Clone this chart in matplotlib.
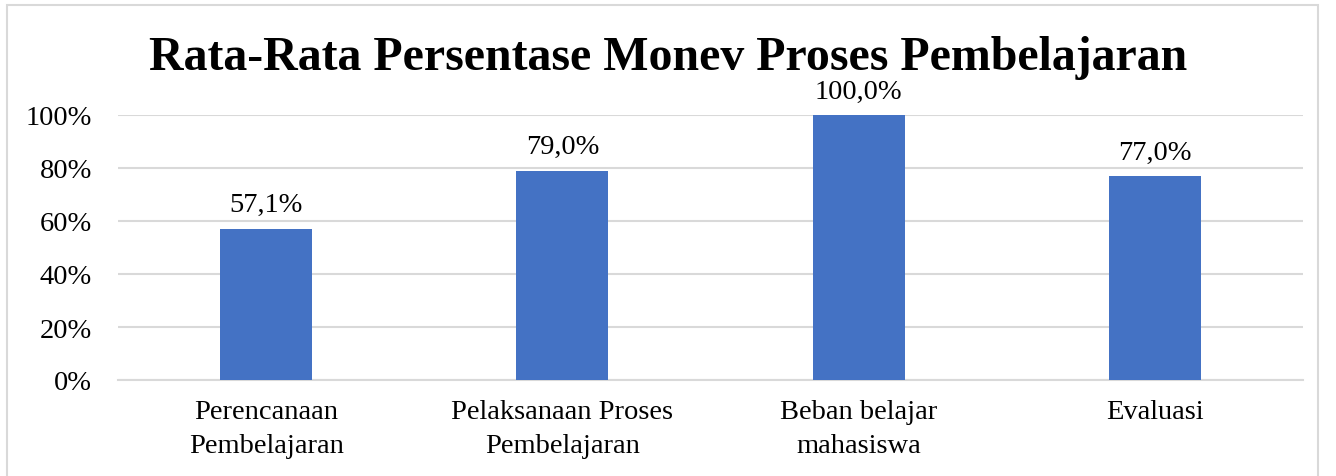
import matplotlib
matplotlib.use("Agg")
import matplotlib.pyplot as plt
from matplotlib.patches import Rectangle
from matplotlib.ticker import FuncFormatter

categories = ["Perencanaan\nPembelajaran", "Pelaksanaan Proses\nPembelajaran",
              "Beban belajar\nmahasiswa", "Evaluasi"]
values = [57.1, 79.0, 100.0, 77.0]
value_labels = ["57,1%", "79,0%", "100,0%", "77,0%"]
yticks = [0, 20, 40, 60, 80, 100]
title = "Rata-Rata Persentase Monev Proses Pembelajaran"

plt.rcParams['font.family'] = ['Liberation Serif', 'DejaVu Serif']

W, H = 1336, 477
fig = plt.figure(figsize=(W/100, H/100), dpi=100)
ax = fig.add_axes([118/W, 1 - 381/H, (1303-118)/W, (381-116)/H])

FS = 20.5
x = list(range(len(categories)))
bars = ax.bar(x, values, width=0.31, color="#4472C4", zorder=3)
for xi, v, lab in zip(x, values, value_labels):
    ax.annotate(lab, (xi, v), xytext=(0, 12.5), textcoords="offset points",
                ha="center", va="baseline", fontsize=FS, color="#000000")

ax.set_xlim(-0.5, 3.5)
ax.set_ylim(0, 100)
ax.set_yticks(yticks)
ax.yaxis.set_major_formatter(FuncFormatter(lambda v, p: f"{int(v)}%"))
ax.set_xticks(x)
ax.set_xticklabels(categories, fontsize=FS, linespacing=1.45)
ax.tick_params(axis='y', labelsize=FS, length=0, pad=18.7)
ax.tick_params(axis='x', length=0, pad=14)
ax.grid(axis='y', color="#D9D9D9", linewidth=1.5, zorder=0)
for s in ["top", "right", "left"]:
    ax.spines[s].set_visible(False)
ax.spines["bottom"].set_color("#D9D9D9")
ax.spines["bottom"].set_linewidth(1.5)

fig.text(0.5, 1 - 70/H, title, ha="center", va="baseline", fontsize=34.5,
         fontweight="bold", color="#000000")

# outer chart border
fig.patches.append(Rectangle((7/W, -0.05), (1318-7)/W, 1 - 6/H + 0.05,
                             transform=fig.transFigure, fill=False,
                             edgecolor="#D9D9D9", linewidth=1.5))

fig.savefig("out.png", dpi=100)
